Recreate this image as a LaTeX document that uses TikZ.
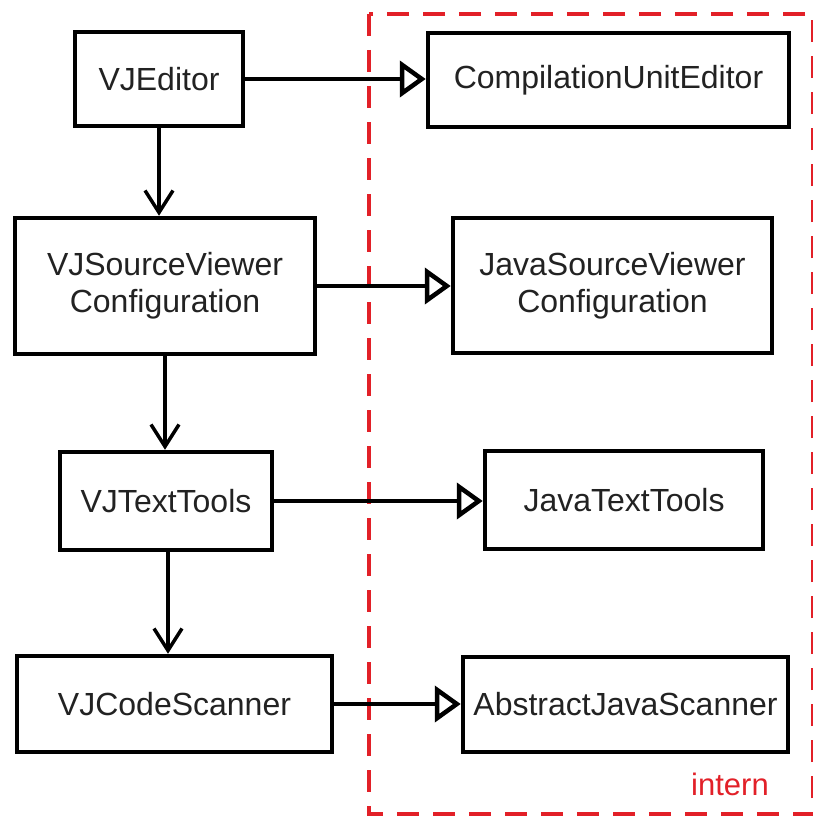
\documentclass[tikz,border=0pt]{standalone}
\usepackage{fontspec}
\setmainfont{Liberation Sans}
\usetikzlibrary{arrows.meta}
\definecolor{internred}{RGB}{226,32,40}
\definecolor{txt}{RGB}{34,34,34}
\tikzset{
  cls/.style={draw=black, line width=4.5pt, fill=white, inner sep=0pt, align=center,
    font=\fontsize{32}{37}\selectfont, text=txt},
  inh/.style={line width=3.5pt, -{Triangle[open, length=26pt, width=36pt, line width=4.5pt]}},
  uses/.style={line width=3.5pt, -{Straight Barb[length=22pt, width=28pt, line width=3.5pt]}},
  region/.style={draw=internred, line width=4pt, dash pattern=on 22pt off 14pt},
}
\begin{document}
\begin{tikzpicture}[x=1pt, y=-1pt]
\useasboundingbox (0,0) rectangle (812,816);
\fill[white] (0,0) rectangle (812,816);
\draw[region] (369,14) rectangle (813,814);
\node[internred, font=\fontsize{31}{37}\selectfont] (lab) at (730,784) {intern};

\node[cls, minimum width=168pt, minimum height=94pt] (ed) at (159,79) {VJEditor};
\node[cls, minimum width=361pt, minimum height=94pt] (cue) at (608.5,80) {CompilationUnitEditor};
\node[cls, minimum width=300pt, minimum height=136pt] (svc) at (165,286) {VJSourceViewer\\Configuration};
\node[cls, minimum width=319pt, minimum height=135pt] (jsvc) at (612.5,285.5) {JavaSourceViewer\\Configuration};
\node[cls, minimum width=212pt, minimum height=98pt] (tt) at (166,501) {VJTextTools};
\node[cls, minimum width=278pt, minimum height=98pt] (jtt) at (624,500) {JavaTextTools};
\node[cls, minimum width=315pt, minimum height=96pt] (cs) at (174.5,704) {VJCodeScanner};
\node[cls, minimum width=325pt, minimum height=95pt] (ajs) at (625.5,704.5) {AbstractJavaScanner};

\draw[inh] (ed.east) -- (ed.east -| cue.west);
\draw[inh] (svc.east) -- (svc.east -| jsvc.west);
\draw[inh] (tt.east) -- (tt.east -| jtt.west);
\draw[inh] (cs.east) -- (cs.east -| ajs.west);

\draw[uses] (ed.south) -- (ed.south |- svc.north);
\draw[uses] (svc.south) -- (svc.south |- tt.north);
\draw[uses] ([xshift=2pt]tt.south) -- ([xshift=2pt]tt.south |- cs.north);
\end{tikzpicture}
\end{document}
